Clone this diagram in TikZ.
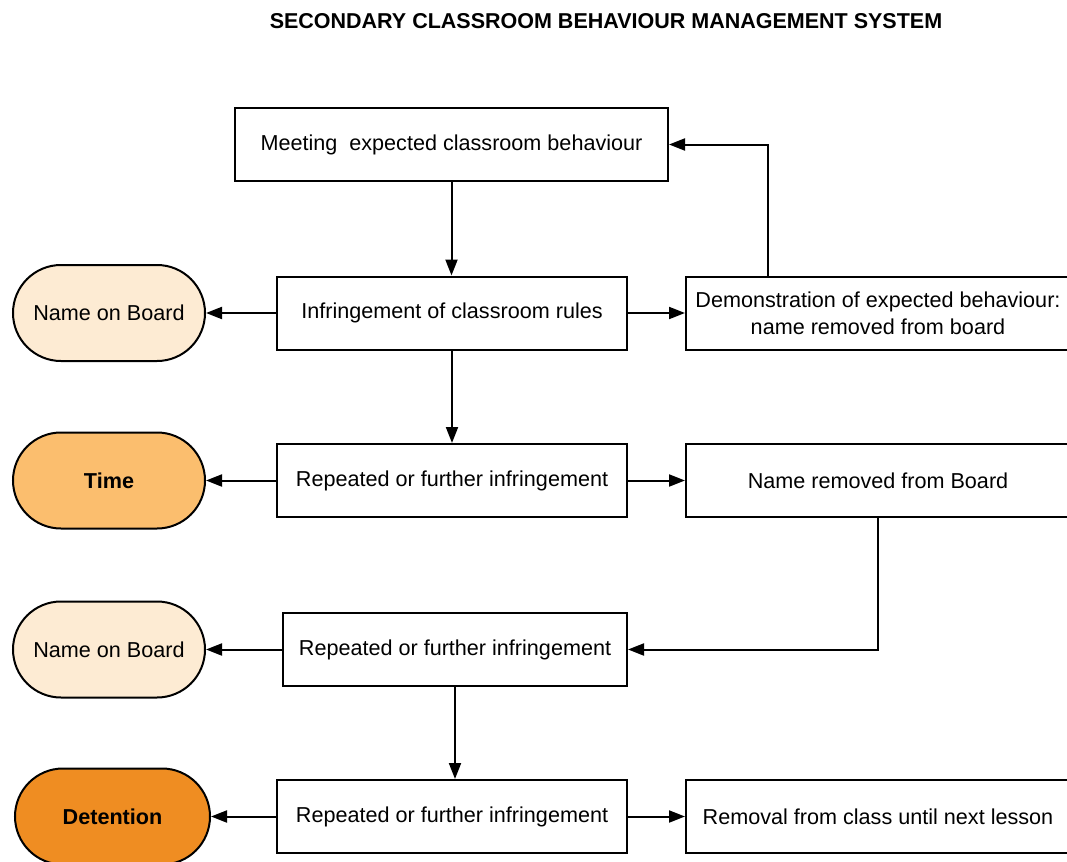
\documentclass[tikz,border=0pt]{standalone}
\usepackage{fontspec}
\setmainfont{Liberation Sans}
\usepackage{tikz}
\usetikzlibrary{arrows.meta,positioning}

\definecolor{palepeach}{HTML}{FDEBD3}
\definecolor{midorange}{HTML}{FBBE6E}
\definecolor{deeporange}{HTML}{EF8D22}

\tikzset{
  box/.style={draw,line width=1pt,fill=white,minimum height=36.5pt,
              inner sep=2pt,font=\fontsize{10.8}{13.5}\selectfont,align=center},
  pill/.style={draw,line width=1pt,rounded corners=24pt,minimum width=96pt,
               minimum height=48pt,font=\fontsize{10.8}{13.5}\selectfont},
  arr/.style={-{Triangle[length=8pt,width=6pt]},line width=1pt}
}

\begin{document}
\begin{tikzpicture}[x=0.5pt,y={(0pt,-0.5pt)}]
  \useasboundingbox (0,0) rectangle (1067,862);

  \node[font=\bfseries\fontsize{10.75}{13}\selectfont] (title) at (606,21)
       {SECONDARY CLASSROOM BEHAVIOUR MANAGEMENT SYSTEM};

  % centre column
  \node[box,minimum width=216.5pt] (meet) at (451.5,144.5)
       {Meeting \ expected classroom behaviour};
  \node[box,minimum width=175pt] (infr) at (452,313)
       {Infringement of classroom rules};
  \node[box,minimum width=175pt] (rep1) at (452,480.5)
       {Repeated or further infringement};
  \node[box,minimum width=172pt] (rep2) at (455,649.5)
       {Repeated or further infringement};
  \node[box,minimum width=175pt] (rep3) at (452,816.5)
       {Repeated or further infringement};

  % right column
  \node[box,minimum width=192pt] (demo) at (878,313)
       {Demonstration of expected behaviour:\\name removed from board};
  \node[box,minimum width=192pt] (remv) at (878,480.5)
       {Name removed from Board};
  \node[box,minimum width=192pt] (excl) at (878,816.5)
       {Removal from class until next lesson};

  % left column
  \node[pill,fill=palepeach] (nob1) at (109,313) {Name on Board};
  \node[pill,fill=midorange,font=\bfseries\fontsize{10.8}{13.5}\selectfont]
       (time) at (109,480.5) {Time};
  \node[pill,fill=palepeach] (nob2) at (109,649.5) {Name on Board};
  \node[pill,fill=deeporange,minimum width=97.5pt,
        font=\bfseries\fontsize{10.8}{13.5}\selectfont]
       (det) at (112.5,816.5) {Detention};

  % connectors
  \draw[arr] (meet.south) -- (meet.south |- infr.north);
  \draw[arr] (infr.south) -- (rep1.north);
  \draw[arr] (rep2.south) -- (rep2.south |- rep3.north);
  \draw[arr] (infr.west) -- (nob1.east);
  \draw[arr] (rep1.west) -- (time.east);
  \draw[arr] (rep2.west) -- (nob2.east);
  \draw[arr] (rep3.west) -- (det.east);
  \draw[arr] (infr.east) -- (demo.west);
  \draw[arr] (rep1.east) -- (remv.west);
  \draw[arr] (rep3.east) -- (excl.west);
  \draw[arr] ([xshift=-55pt]demo.north) |- (meet.east);
  \draw[arr] (remv.south) |- (rep2.east);
\end{tikzpicture}
\end{document}
